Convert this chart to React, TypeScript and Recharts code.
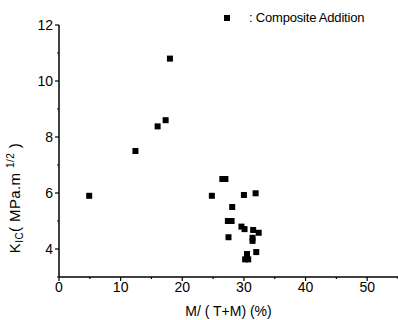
import React from 'react';
import { ScatterChart, Scatter, XAxis, YAxis, Label } from 'recharts';

// M/(T+M) content (%) vs fracture toughness K_IC
const fractionM = [4.9, 12.4, 16.0, 17.3, 18.0, 26.5, 27.0, 24.8, 30.0, 31.9, 28.1, 27.4, 28.0, 29.6, 30.1, 31.5, 32.4, 27.5, 31.4, 31.4, 32.0, 30.5, 30.2, 30.7];
const toughness = [5.9, 7.5, 8.38, 8.6, 10.8, 6.5, 6.5, 5.9, 5.93, 5.99, 5.5, 5.0, 5.0, 4.8, 4.71, 4.68, 4.58, 4.42, 4.4, 4.29, 3.89, 3.82, 3.63, 3.63];

const xTicks = [0, 5, 10, 15, 20, 25, 30, 35, 40, 45, 50, 55];
const xLabeled = [0, 10, 20, 30, 40, 50];
const yTicks = [3, 4, 5, 6, 7, 8, 9, 10, 11, 12];
const yLabeled = [4, 6, 8, 10, 12];

const data = fractionM.map((x, i) => ({ x, y: toughness[i] }));

const FONT = '"Liberation Sans", Arial, sans-serif';

const Square = (props: any) => {
  const { cx, cy } = props;
  return <rect x={cx - 3} y={cy - 3} width={6} height={6} fill="#000" />;
};

const XTick = (props: any) => {
  const { x, y, payload } = props;
  const major = xLabeled.includes(payload.value);
  return (
    <g>
      <line x1={x} y1={y} x2={x} y2={y + (major ? 4 : 2)} stroke="#000" strokeWidth={1.2} />
      {major && (
        <text x={x} y={y + 15} textAnchor="middle" fontFamily={FONT} fontSize={14} fill="#000">
          {payload.value}
        </text>
      )}
    </g>
  );
};

const YTick = (props: any) => {
  const { x, y, payload } = props;
  const major = yLabeled.includes(payload.value);
  return (
    <g>
      <line x1={x} y1={y} x2={x - (major ? 4 : 2)} y2={y} stroke="#000" strokeWidth={1.2} />
      {major && (
        <text x={x - 6} y={y + 5} textAnchor="end" fontFamily={FONT} fontSize={14} fill="#000">
          {payload.value}
        </text>
      )}
    </g>
  );
};

const YTitle = () => (
  <text
    transform="translate(20, 198) rotate(-90)"
    textAnchor="middle"
    fontFamily={FONT}
    fontSize={15}
    letterSpacing={0.4}
    fill="#000"
  >
    K<tspan fontSize={10} dy={3}>IC</tspan>
    <tspan dy={-3}>( MPa.m </tspan>
    <tspan fontSize={10} dy={-6}>1/2</tspan>
    <tspan dy={6}> )</tspan>
  </text>
);

export default function App() {
  return (
    <div style={{ position: 'absolute', left: 0, top: 0, width: 398, height: 320, background: '#fff' }}>
      <ScatterChart width={398} height={320} margin={{ top: 25, right: 0, bottom: 0, left: 0 }}>
        <XAxis
          type="number"
          dataKey="x"
          domain={[0, 55]}
          ticks={xTicks}
          interval={0}
          height={43}
          tickSize={0}
          tickMargin={0}
          axisLine={{ stroke: '#000', strokeWidth: 1.5 }}
          tickLine={false}
          tick={<XTick />}
        >
          <Label value="M/ ( T+M)  (%)" position="insideBottom" offset={4} fontFamily={FONT} fontSize={14} fill="#000" />
        </XAxis>
        <YAxis
          type="number"
          dataKey="y"
          domain={[3, 12]}
          ticks={yTicks}
          interval={0}
          width={59}
          tickSize={0}
          tickMargin={0}
          axisLine={{ stroke: '#000', strokeWidth: 1.5 }}
          tickLine={false}
          tick={<YTick />}
          label={<YTitle />}
        />
        <Scatter data={data} shape={<Square />} fill="#000" isAnimationActive={false} name="Composite Addition" />
      </ScatterChart>
      <div
        style={{
          position: 'absolute',
          left: 224,
          top: 10,
          display: 'flex',
          alignItems: 'center',
          fontFamily: FONT,
          fontSize: 13,
          letterSpacing: -0.2,
          whiteSpace: 'nowrap',
        }}
      >
        <span style={{ display: 'inline-block', width: 6, height: 6, background: '#000', marginRight: 19 }} />
        <span>: Composite Addition</span>
      </div>
    </div>
  );
}
